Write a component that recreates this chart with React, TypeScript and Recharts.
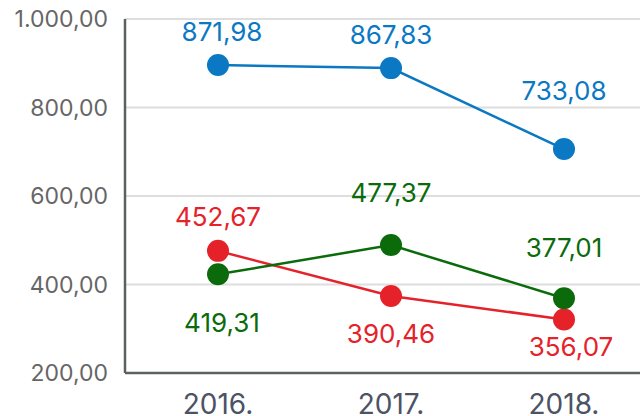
import React from 'react';
import { LineChart, Line, XAxis, YAxis, CartesianGrid } from 'recharts';

const categories = ['2016.', '2017.', '2018.'];
const blueValues = [896, 889, 706];
const redValues = [476, 374, 321];
const greenValues = [423, 489, 369];
const blueLabels = ['871,98', '867,83', '733,08'];
const redLabels = ['452,67', '390,46', '356,07'];
const greenLabels = ['419,31', '477,37', '377,01'];
const yTicks = [200, 400, 600, 800, 1000];

const BLUE = '#0a78c2';
const RED = '#e5222a';
const GREEN = '#0b6b0b';
const FONT = 'Inter, "Open Sans", sans-serif';

// label placement (style): baseline offset from point, horizontal nudge
const blueDy = [-24, -24, -49];
const redDy = [-25, 47, 37];
const greenDy = [58, -43, -41];
const blueDx = [4, 0, 0];
const redDx = [0, 0, 7];
const greenDx = [4, 0, 0];

const data = categories.map((c, i) => ({
  name: c,
  blue: blueValues[i],
  red: redValues[i],
  green: greenValues[i],
}));

const fmtTick = (v: number) => {
  const s = v.toFixed(2).replace('.', ',');
  const [int, dec] = s.split(',');
  const withDots = int.replace(/\B(?=(\d{3})+(?!\d))/g, '.');
  return `${withDots},${dec}`;
};

const makeLabel = (labels: string[], dys: number[], dxs: number[], color: string) => (props: any) => {
  const { x, y, index } = props;
  if (x == null || y == null) return null;
  return (
    <text
      key={`l-${index}`}
      x={x + dxs[index]}
      y={y + dys[index]}
      textAnchor="middle"
      fill={color}
      fontSize={26}
      fontFamily={FONT}
    >
      {labels[index]}
    </text>
  );
};

export default function App() {
  return (
    <div style={{ position: 'fixed', left: 0, top: 0, width: 640, height: 416, overflow: 'hidden', background: '#fff' }}>
      <LineChart width={660} height={416} data={data} margin={{ top: 19, right: 10, bottom: 0, left: 0 }}>
        <CartesianGrid vertical={false} stroke="#dedede" strokeWidth={2} />
        <XAxis
          dataKey="name"
          padding={{ left: 93, right: 86 }}
          height={43}
          axisLine={{ stroke: '#5b6061', strokeWidth: 2.5 }}
          tickLine={false}
          tickMargin={15}
          tick={{ fill: '#4b5365', fontSize: 28, fontFamily: FONT }}
        />
        <YAxis
          domain={[200, 1000]}
          ticks={yTicks}
          width={125}
          interval={0}
          axisLine={{ stroke: '#5b6061', strokeWidth: 2.5 }}
          tickLine={false}
          tickMargin={11}
          tickFormatter={fmtTick}
          tick={{ fill: '#666666', fontSize: 23, fontFamily: FONT }}
        />
        <Line
          dataKey="blue"
          stroke={BLUE}
          strokeWidth={2.5}
          dot={{ r: 11, fill: BLUE, stroke: 'none' }}
          activeDot={false}
          isAnimationActive={false}
          label={makeLabel(blueLabels, blueDy, blueDx, BLUE)}
        />
        <Line
          dataKey="red"
          stroke={RED}
          strokeWidth={2.5}
          dot={{ r: 11, fill: RED, stroke: 'none' }}
          activeDot={false}
          isAnimationActive={false}
          label={makeLabel(redLabels, redDy, redDx, RED)}
        />
        <Line
          dataKey="green"
          stroke={GREEN}
          strokeWidth={2.5}
          dot={{ r: 11, fill: GREEN, stroke: 'none' }}
          activeDot={false}
          isAnimationActive={false}
          label={makeLabel(greenLabels, greenDy, greenDx, GREEN)}
        />
      </LineChart>
    </div>
  );
}
